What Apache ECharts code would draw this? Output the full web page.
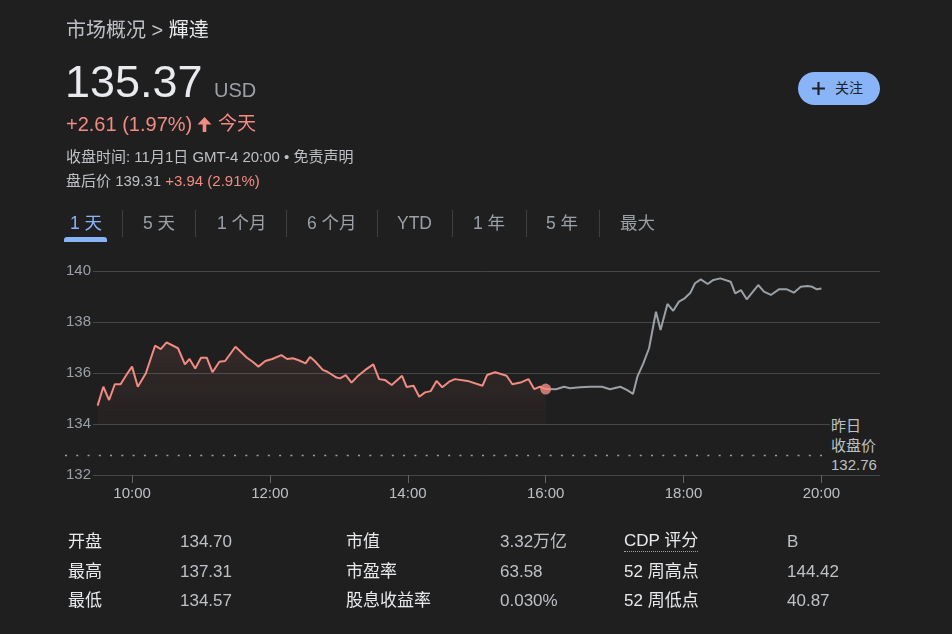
<!DOCTYPE html>
<html>
<head>
<meta charset="utf-8">
<script src="https://cdn.jsdelivr.net/npm/echarts@6/dist/echarts.min.js"></script>
<style>
  html, body { margin:0; padding:0; background:#1f1f1f; width:952px; height:634px; overflow:hidden; }
  body { font-family: "Liberation Sans", Arial, "Noto Sans CJK SC", sans-serif; position:relative; }
  #chart { position:absolute; left:0; top:0; width:952px; height:634px; }
  .t { position:absolute; white-space:nowrap; }
  .gray { color:#bdc1c6; }
  .white { color:#e8eaed; }
  .red { color:#f28b82; }
  .tab { position:absolute; top:211px; font-size:17.5px; line-height:24px; color:#9aa0a6; }
  .sep { position:absolute; top:210px; width:1px; height:27px; background:#3c4043; }
  .lab { position:absolute; font-size:17px; line-height:22px; color:#e8eaed; }
  .val { position:absolute; font-size:17px; line-height:22px; color:#bdc1c6; }
</style>
</head>
<body>
<div id="chart"></div>

<div class="t" style="left:66px;top:18px;font-size:20px;line-height:24px;"><span class="gray">市场概况 &gt; </span><span class="white">輝達</span></div>
<div class="t white" style="left:65px;top:59px;font-size:45px;line-height:45px;">135.37</div>
<div class="t" style="left:214px;top:80px;font-size:20px;line-height:20px;color:#9aa0a6;">USD</div>
<div class="t red" style="left:66px;top:113px;font-size:20px;line-height:22px;">+2.61 (1.97%)</div>
<svg class="t" style="left:197px;top:116px;" width="15" height="16" viewBox="0 0 15 16"><path fill="#f28b82" d="M7.5 1L14.5 8.5H9.3V16H5.7V8.5H0.5z"/></svg>
<div class="t red" style="left:218px;top:113px;font-size:19px;line-height:22px;">今天</div>
<div class="t gray" style="left:66px;top:148px;font-size:15px;line-height:18px;">收盘时间: 11月1日 GMT-4 20:00 • 免责声明</div>
<div class="t" style="left:66px;top:172px;font-size:15px;line-height:18px;"><span class="gray">盘后价 139.31 </span><span class="red">+3.94 (2.91%)</span></div>

<div class="t" style="left:798px;top:72px;width:82px;height:33px;border-radius:17px;background:#8ab4f8;"></div>
<svg class="t" style="left:811px;top:81px;" width="15" height="15" viewBox="0 0 14 14"><path d="M6 1h2v5h5v2H8v5H6V8H1V6h5z" fill="#202124"/></svg>
<div class="t" style="left:835px;top:79px;font-size:14px;line-height:18px;color:#202124;">关注</div>

<div class="tab" style="left:70px;color:#8ab4f8;">1 天</div>
<div class="t" style="left:64px;top:237px;width:43px;height:5px;border-radius:3px 3px 0 0;background:#8ab4f8;"></div>
<div class="sep" style="left:122px;"></div>
<div class="tab" style="left:143px;">5 天</div>
<div class="sep" style="left:195px;"></div>
<div class="tab" style="left:217px;">1 个月</div>
<div class="sep" style="left:286px;"></div>
<div class="tab" style="left:307px;">6 个月</div>
<div class="sep" style="left:377px;"></div>
<div class="tab" style="left:397px;">YTD</div>
<div class="sep" style="left:452px;"></div>
<div class="tab" style="left:473px;">1 年</div>
<div class="sep" style="left:526px;"></div>
<div class="tab" style="left:546px;">5 年</div>
<div class="sep" style="left:599px;"></div>
<div class="tab" style="left:620px;">最大</div>

<div class="t gray" style="left:830px;top:416px;font-size:15px;line-height:19.5px;background:#1f1f1f;padding-left:1px;padding-right:6px;" id="pclabel"></div>

<div class="lab" style="left:68px;top:531px;">开盘</div>
<div class="val" style="left:180px;top:531px;">134.70</div>
<div class="lab" style="left:68px;top:561px;">最高</div>
<div class="val" style="left:180px;top:561px;">137.31</div>
<div class="lab" style="left:68px;top:590px;">最低</div>
<div class="val" style="left:180px;top:590px;">134.57</div>
<div class="lab" style="left:346px;top:531px;">市值</div>
<div class="val" style="left:500px;top:531px;">3.32万亿</div>
<div class="lab" style="left:346px;top:561px;">市盈率</div>
<div class="val" style="left:500px;top:561px;">63.58</div>
<div class="lab" style="left:346px;top:590px;">股息收益率</div>
<div class="val" style="left:500px;top:590px;">0.030%</div>
<div class="lab" style="left:624px;top:531px;border-bottom:1.5px dotted #9aa0a6;line-height:20px;">CDP 评分</div>
<div class="val" style="left:787px;top:531px;">B</div>
<div class="lab" style="left:624px;top:561px;">52 周高点</div>
<div class="val" style="left:787px;top:561px;">144.42</div>
<div class="lab" style="left:624px;top:590px;">52 周低点</div>
<div class="val" style="left:787px;top:590px;">40.87</div>

<script>
// times are minutes after midnight (GMT-4)
const regTimes = [570,575,580,585,590,596,600,605,612,620,625,630,640,646,650,655,660,665,670,676,681,690,700,705,710,716,722,730,735,740,745,751,755,759,766,770,778,781,786,791,796,803,810,815,820,826,835,839,845,850,855,860,865,870,876,881,892,905,909,916,926,931,939,945,950,955,960];
const regValues = [134.72,135.46,134.94,135.56,135.56,135.99,136.25,135.46,135.99,137.07,136.94,137.2,136.97,136.34,136.55,136.18,136.6,136.6,136.03,136.44,136.47,137.03,136.6,136.44,136.25,136.47,136.55,136.7,136.55,136.58,136.5,136.38,136.63,136.47,136.12,136.05,135.82,135.79,135.92,135.62,135.86,136.12,136.34,135.76,135.73,135.53,135.89,135.45,135.5,135.07,135.24,135.29,135.69,135.44,135.66,135.76,135.69,135.5,135.92,136.03,135.89,135.56,135.64,135.76,135.37,135.46,135.37];
const extTimes = [960,969,976,981,990,999,1009,1016,1025,1031,1036,1040,1045,1050,1056,1060,1066,1071,1076,1081,1086,1090,1095,1101,1106,1112,1121,1125,1130,1135,1145,1150,1156,1163,1170,1176,1182,1188,1192,1196,1200];
const extValues = [135.37,135.36,135.46,135.40,135.44,135.46,135.46,135.36,135.46,135.33,135.18,135.88,136.38,136.97,138.40,137.69,138.71,138.44,138.80,138.93,139.15,139.52,139.67,139.49,139.65,139.71,139.58,139.12,139.25,138.89,139.45,139.19,139.06,139.28,139.28,139.15,139.38,139.41,139.38,139.28,139.31];
const prevClose = 132.76;
const xTickTimes = [600,720,840,960,1080,1200];
const xTickLabels = ['10:00','12:00','14:00','16:00','18:00','20:00'];
const yMin = 132, yMax = 140, yStep = 2;

document.getElementById('pclabel').innerHTML = '昨日<br>收盘价<br>' + prevClose.toFixed(2);

const FONT = '"Liberation Sans", Arial, "Noto Sans CJK SC", sans-serif';
const chart = echarts.init(document.getElementById('chart'), null, {renderer:'canvas'});
const reg = regTimes.map((t,i)=>[t, regValues[i]]);
const ext = extTimes.map((t,i)=>[t, extValues[i]]);
chart.setOption({
  animation:false,
  backgroundColor:'transparent',
  grid:[
    {left:93, right:72, top:271, bottom:159},
    {left:65, right:130, top:271, bottom:159}
  ],
  xAxis:[
    {type:'value', gridIndex:0, min:566, max:1251,
     axisLine:{show:false}, splitLine:{show:false},
     axisTick:{show:true, customValues:xTickTimes, length:8, lineStyle:{color:'#5f6368'}},
     axisLabel:{customValues:xTickTimes, color:'#bdc1c6', fontSize:15, fontFamily:FONT, margin:11,
       formatter:v=>xTickLabels[xTickTimes.indexOf(v)]}},
    {type:'value', gridIndex:1, min:0, max:1, show:false}
  ],
  yAxis:[
    {type:'value', gridIndex:0, min:yMin, max:yMax, interval:yStep,
     axisLine:{show:false}, axisTick:{show:false},
     splitLine:{lineStyle:{color:'#444746', width:1}},
     axisLabel:{color:'#9aa0a6', fontSize:15, fontFamily:FONT, margin:2}},
    {type:'value', gridIndex:1, min:yMin, max:yMax, show:false}
  ],
  series:[
    {type:'line', xAxisIndex:1, yAxisIndex:1, data:[[0,prevClose],[1,prevClose]], showSymbol:false, silent:true,
     lineStyle:{color:'#9aa0a6', width:1.5, type:[2,9.27]}, z:1},
    {type:'line', data:reg, showSymbol:false, z:3,
     lineStyle:{color:'#f28b82', width:2},
     areaStyle:{origin:134, color:new echarts.graphic.LinearGradient(0,0,0,1,[
       {offset:0, color:'rgba(242,139,130,0.15)'},{offset:1, color:'rgba(242,139,130,0.04)'}])}},
    {type:'line', data:ext, showSymbol:false, z:3, lineStyle:{color:'#9aa0a6', width:2}},
    {type:'scatter', data:[reg[reg.length-1]], symbolSize:11, itemStyle:{color:'#f28b82'}, z:5}
  ]
});
</script>
</body>
</html>
